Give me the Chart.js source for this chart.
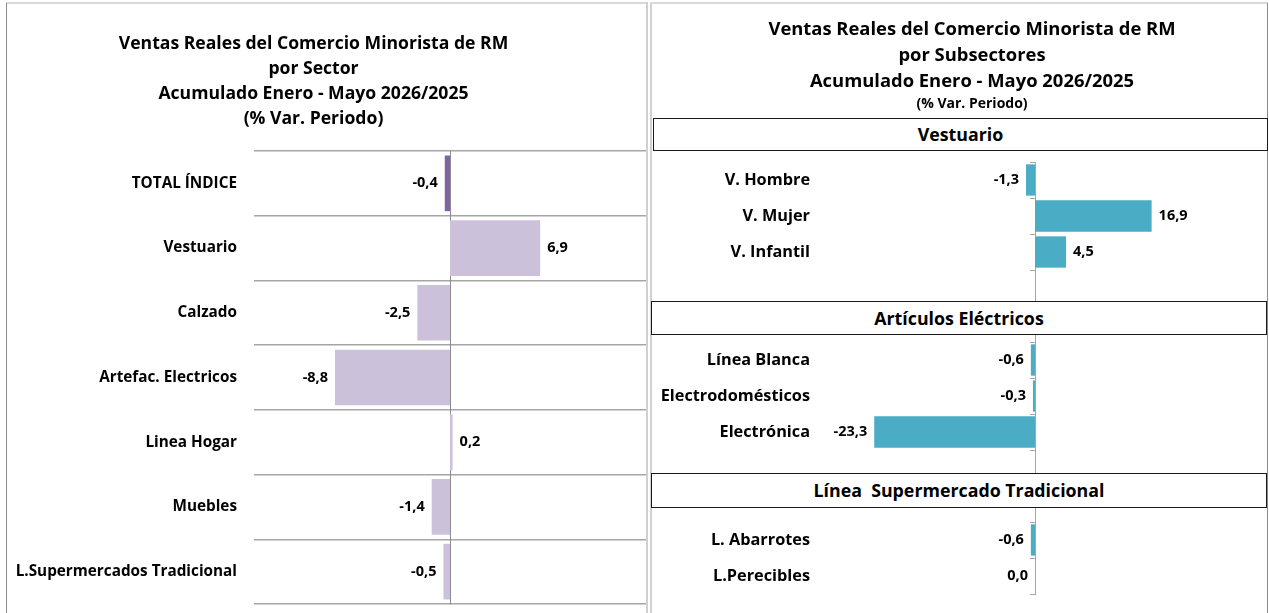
<!DOCTYPE html>
<html>
<head>
<meta charset="utf-8">
<script src="https://cdn.jsdelivr.net/npm/chart.js@4.4.1/dist/chart.umd.min.js"></script>
<style>
  html, body { margin: 0; padding: 0; background: #fff; }
  body { width: 1269px; height: 613px; position: relative; overflow: hidden; font-family: "Open Sans", "Noto Sans", sans-serif; }
  .abs { position: absolute; }
  .title { position: absolute; text-align: center; font-weight: bold; color: #000; }
  .title div { white-space: nowrap; }
  .box { position: absolute; background: #fff; border: 1px solid #1a1a1a; box-sizing: border-box; text-align: center; font-weight: bold; font-size: 17.8px; color: #000; white-space: pre; }
</style>
</head>
<body>
<!-- panel borders -->
<div class="abs" style="left:6px;top:2px;width:642px;height:2px;background:#d9d9d9"></div>
<div class="abs" style="left:6px;top:3px;width:1px;height:610px;background:#8c8c8c"></div>
<div class="abs" style="left:646px;top:2px;width:2px;height:611px;background:#d0d0d0"></div>
<div class="abs" style="left:650px;top:2px;width:2px;height:611px;background:#d0d0d0"></div>
<div class="abs" style="left:650px;top:2px;width:618px;height:2px;background:#d9d9d9"></div>
<div class="abs" style="left:1267px;top:3px;width:1px;height:610px;background:#8c8c8c"></div>

<canvas id="left" class="abs" style="left:0;top:0" width="646" height="613"></canvas>
<canvas id="right" class="abs" style="left:652px;top:0" width="615" height="613"></canvas>

<div class="title" style="left:0;width:627px;top:29.5px;font-size:17.6px;line-height:25.2px">
  <div>Ventas Reales del Comercio Minorista de RM</div>
  <div>por Sector</div>
  <div>Acumulado Enero - Mayo 2026/2025</div>
  <div>(% Var. Periodo)</div>
</div>
<div class="title" style="left:676px;width:592px;top:15px;font-size:18.4px;line-height:26px">
  <div>Ventas Reales del Comercio Minorista de RM</div>
  <div>por Subsectores</div>
  <div>Acumulado Enero - Mayo 2026/2025</div>
  <div style="font-size:14px;line-height:20px">(% Var. Periodo)</div>
</div>

<div class="box" style="left:653px;top:118px;width:615px;height:33px;line-height:31px">Vestuario</div>
<div class="box" style="left:651px;top:301px;width:616px;height:34px;line-height:32px">Artículos Eléctricos</div>
<div class="box" style="left:651px;top:473px;width:616px;height:35px;line-height:33px">Línea  Supermercado Tradicional</div>

<script>
// ---- Data: left chart (por Sector) ----
const sectorLabels = ['TOTAL ÍNDICE', 'Vestuario', 'Calzado', 'Artefac. Electricos', 'Linea Hogar', 'Muebles', 'L.Supermercados Tradicional'];
const sectorValues = [-0.4, 6.9, -2.5, -8.8, 0.2, -1.4, -0.5];

// ---- Data: right chart (por Subsectores) ----
const vestuarioLabels = ['V. Hombre', 'V. Mujer', 'V. Infantil'];
const vestuarioValues = [-1.3, 16.9, 4.5];
const electricosLabels = ['Línea Blanca', 'Electrodomésticos', 'Electrónica'];
const electricosValues = [-0.6, -0.3, -23.3];
const supermercadoLabels = ['L. Abarrotes', 'L.Perecibles'];
const supermercadoValues = [-0.6, 0.0];

// rows between groups are left empty (group header boxes sit there)
const gapLabels = ['', ' '];
const gapLabels2 = ['  ', '   '];
const subLabels = [...vestuarioLabels, ...gapLabels, ...electricosLabels, ...gapLabels2, ...supermercadoLabels];
const subValues = [...vestuarioValues, null, null, ...electricosValues, null, null, ...supermercadoValues];

const fmt = v => v.toFixed(1).replace('.', ',');
const FONT = '"Open Sans", "Noto Sans", sans-serif';

function valueLabelPlugin(fontSize, gap) {
  return {
    id: 'valueLabels',
    afterDatasetsDraw(chart) {
      const ctx = chart.ctx;
      const ds = chart.data.datasets[0];
      const meta = chart.getDatasetMeta(0);
      ctx.save();
      ctx.font = 'bold ' + fontSize + 'px ' + FONT;
      ctx.fillStyle = '#000';
      ctx.textBaseline = 'middle';
      meta.data.forEach((el, i) => {
        const v = ds.data[i];
        if (v === null || v === undefined) return;
        if (v > 0) { ctx.textAlign = 'left'; ctx.fillText(fmt(v), el.x + gap, el.y); }
        else { ctx.textAlign = 'right'; ctx.fillText(fmt(v), Math.min(el.x, el.base) - gap, el.y); }
      });
      ctx.restore();
    }
  };
}

const fixLabelAxis = w => s => { s.width = w; s.paddingTop = 0; s.paddingBottom = 0; };

Chart.defaults.animation = false;
Chart.defaults.responsive = false;

// ---- Left chart ----
new Chart(document.getElementById('left'), {
  type: 'bar',
  data: {
    labels: sectorLabels,
    datasets: [{
      data: sectorValues,
      backgroundColor: sectorValues.map((v, i) => i === 0 ? '#8064a2' : '#ccc1da'),
      barPercentage: 0.86,
      categoryPercentage: 1.0
    }]
  },
  options: {
    indexAxis: 'y',
    layout: { padding: { top: 151, bottom: 9, left: 0, right: 0 } },
    plugins: { legend: { display: false }, tooltip: { enabled: false } },
    scales: {
      x: { display: false, min: -15, max: 15 },
      y: {
        type: 'category', offset: true, position: { x: 0 },
        ticks: { display: false },
        grid: { offset: true, color: '#a6a6a6', lineWidth: 1.5, drawTicks: false },
        border: { display: true, color: '#8c8c8c', width: 1 }
      },
      yl: {
        type: 'category', offset: true, position: 'left',
        grid: { display: false, drawTicks: false },
        border: { display: false },
        ticks: { color: '#000', font: { family: FONT, weight: 'bold', size: 15.3 }, padding: 17 },
        afterFit: fixLabelAxis(254)
      }
    }
  },
  plugins: [valueLabelPlugin(14.5, 7)]
});

// ---- Right chart ----
new Chart(document.getElementById('right'), {
  type: 'bar',
  data: {
    labels: subLabels,
    datasets: [{
      data: subValues,
      backgroundColor: '#4bacc6',
      barPercentage: 0.87,
      categoryPercentage: 1.0
    }]
  },
  options: {
    indexAxis: 'y',
    layout: { padding: { top: 162, bottom: 19, left: 0, right: 25 } },
    plugins: { legend: { display: false }, tooltip: { enabled: false } },
    scales: {
      x: { display: false, min: -30, max: 30 },
      y: {
        type: 'category', offset: true, position: { x: 0 },
        ticks: { display: false },
        grid: { offset: true, drawOnChartArea: false, drawTicks: true, tickLength: 5, color: '#a6a6a6' },
        border: { display: true, color: '#a6a6a6', width: 1 }
      },
      yl: {
        type: 'category', offset: true, position: 'left',
        grid: { display: false, drawTicks: false },
        border: { display: false },
        ticks: { color: '#000', font: { family: FONT, weight: 'bold', size: 16.3 }, padding: 18 },
        afterFit: fixLabelAxis(176)
      }
    }
  },
  plugins: [valueLabelPlugin(14.5, 7)]
});
</script>
</body>
</html>
